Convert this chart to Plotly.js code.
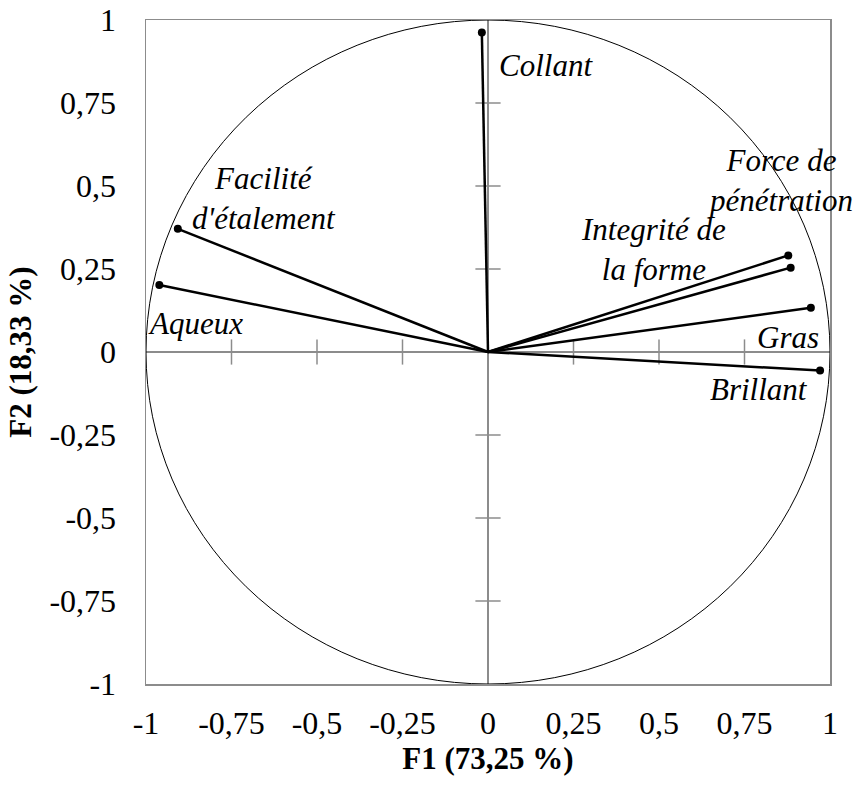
<!DOCTYPE html>
<html>
<head>
<meta charset="utf-8">
<script src="https://cdn.plot.ly/plotly-3.0.1.min.js"></script>
<style>html,body{margin:0;padding:0;background:#fff;}#chart{width:858px;height:785px;}</style>
</head>
<body>
<div id="chart"></div>
<script>
// Variable names and loadings (F1, F2)
const variables = ["Force de pénétration", "Integrité de la forme", "Gras", "Brillant", "Collant", "Facilité d'étalement", "Aqueux"];
const f1 = [0.878, 0.885, 0.944, 0.971, -0.018, -0.907, -0.961];
const f2 = [0.291, 0.254, 0.133, -0.056, 0.962, 0.371, 0.202];

// Label text and label anchor positions
const labelText = ["Force de<br>pénétration", "Integrité de<br>la forme", "Gras", "Brillant", "Collant", "Facilité<br>d'étalement", "Aqueux"];
const labelX = [0.854, 0.485, 0.877, 0.792, 0.026, -0.655, -0.854];
const labelY = [0.518, 0.310, 0.045, -0.114, 0.864, 0.461, 0.087];
const labelAnchor = ["center", "center", "center", "center", "left", "center", "center"];

// Axis ticks
const tickVals = [-1, -0.75, -0.5, -0.25, 0, 0.25, 0.5, 0.75, 1];
const tickText = ["-1", "-0,75", "-0,5", "-0,25", "0", "0,25", "0,5", "0,75", "1"];
const crossTicks = [-0.75, -0.5, -0.25, 0.25, 0.5, 0.75];

const FONT = "Liberation Serif, Times New Roman, serif";
const GRAY = "#8c8c8c";

// vector lines from origin
const lx = [], ly = [];
for (let i = 0; i < f1.length; i++) { lx.push(0, f1[i], null); ly.push(0, f2[i], null); }

const traces = [
  { x: crossTicks, y: crossTicks.map(() => 0), mode: "markers", type: "scatter", hoverinfo: "skip",
    marker: { symbol: "line-ns", size: 18, line: { color: GRAY, width: 1.5 } } },
  { x: crossTicks.map(() => 0), y: crossTicks, mode: "markers", type: "scatter", hoverinfo: "skip",
    marker: { symbol: "line-ew", size: 18, line: { color: GRAY, width: 1.5 } } },
  { x: lx, y: ly, mode: "lines", type: "scatter", line: { color: "#000", width: 2.5 }, hoverinfo: "skip" },
  { x: f1, y: f2, text: variables, mode: "markers", type: "scatter", marker: { color: "#000", size: 8 } }
];

const annotations = labelText.map((t, i) => ({
  x: labelX[i], y: labelY[i], xref: "x", yref: "y", text: "<i>" + t + "</i>", showarrow: false,
  xanchor: labelAnchor[i], yanchor: "middle", align: "center",
  font: { family: FONT, size: 31, color: "#000" }
}));

const axisCommon = {
  range: [-1, 1], tickvals: tickVals, ticktext: tickText, showgrid: false,
  zeroline: true, zerolinecolor: GRAY, zerolinewidth: 1.5,
  showline: true, mirror: true, linecolor: GRAY, linewidth: 1.5,
  ticks: "outside", ticklen: 22, tickcolor: "rgba(0,0,0,0)",
  tickfont: { family: FONT, size: 32, color: "#000" }, automargin: false, fixedrange: true
};

const layout = {
  width: 858, height: 785, showlegend: false,
  paper_bgcolor: "#fff", plot_bgcolor: "#fff",
  margin: { l: 146, r: 28, t: 20, b: 101 },
  xaxis: Object.assign({}, axisCommon, {
    ticklen: 10,
    title: { text: "<b>F1 (73,25 %)</b>", font: { family: FONT, size: 31, color: "#000" }, standoff: 4 }
  }),
  yaxis: Object.assign({}, axisCommon, {
    ticklen: 22,
    title: { text: "<b>F2 (18,33 %)</b>", font: { family: FONT, size: 31, color: "#000" }, standoff: 8 }
  }),
  shapes: [{ type: "circle", xref: "x", yref: "y", x0: -1, y0: -1, x1: 1, y1: 1, line: { color: "#000", width: 1 }, layer: "above" }],
  annotations: annotations
};

Plotly.newPlot("chart", traces, layout, { displayModeBar: false, staticPlot: true });
</script>
</body>
</html>
